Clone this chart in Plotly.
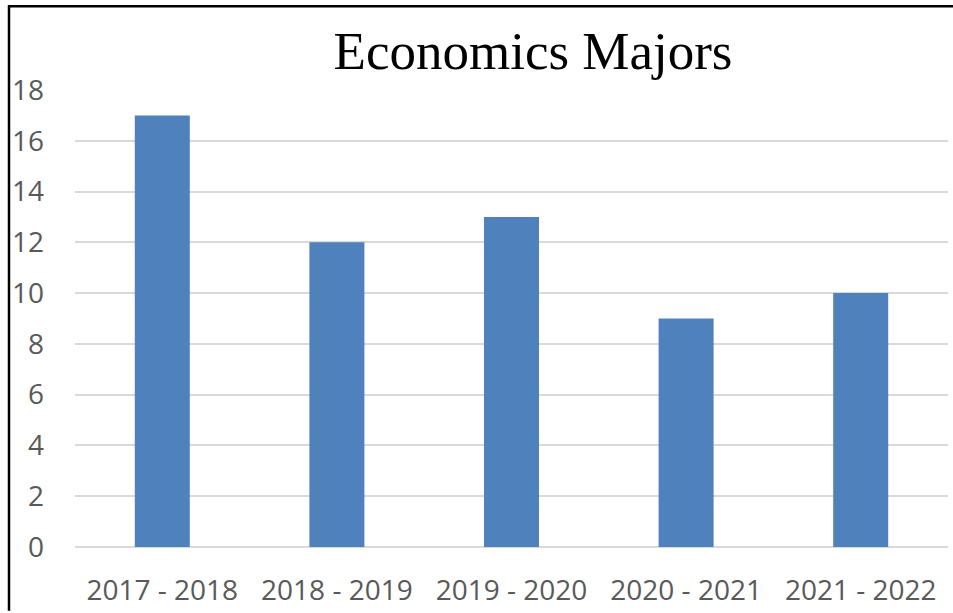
import plotly.graph_objects as go

categories = ["2017 - 2018", "2018 - 2019", "2019 - 2020", "2020 - 2021", "2021 - 2022"]
majors = [17, 12, 13, 9, 10]
y_ticks = [0, 2, 4, 6, 8, 10, 12, 14, 16, 18]

W, H = 953, 613
L, R, T, B = 75, 5, 90, 64
pw, ph = W - L - R, H - T - B

fig = go.Figure(go.Bar(x=categories, y=majors, marker=dict(color="#4F81BD", line=dict(width=0)), width=0.315))

def px_x(x):
    return (x - L) / pw

def px_y(y):
    return 1 - (y - T) / ph

fig.update_layout(
    width=W, height=H,
    margin=dict(l=L, r=R, t=T, b=B),
    paper_bgcolor="white", plot_bgcolor="white",
    showlegend=False,
    title=dict(text="Economics Majors", x=533 / W, xanchor="center", y=1 - 50 / H, yanchor="middle",
               font=dict(family="Liberation Serif, Times New Roman, serif", size=53, color="black")),
    xaxis=dict(showgrid=False, showline=False, ticks="", tickfont=dict(family="Open Sans", size=28, color="#595959"),
               ticklabelstandoff=24),
    yaxis=dict(range=[0, 18], tickvals=y_ticks, showgrid=True, gridcolor="#D9D9D9", gridwidth=2,
               zeroline=True, zerolinecolor="#D9D9D9", zerolinewidth=2, showline=False, ticks="",
               tickfont=dict(family="Open Sans", size=28, color="#595959"), ticklabelstandoff=30),
    shapes=[
        dict(type="line", xref="paper", yref="paper", x0=px_x(8), x1=px_x(953), y0=px_y(6), y1=px_y(6),
             line=dict(color="black", width=2.5)),
        dict(type="line", xref="paper", yref="paper", x0=px_x(9), x1=px_x(9), y0=px_y(5), y1=px_y(613),
             line=dict(color="black", width=2.5)),
    ],
)

fig.write_html("out.html", config={"displayModeBar": False},
               post_script="document.body.style.margin='0';document.body.style.overflow='hidden';")
